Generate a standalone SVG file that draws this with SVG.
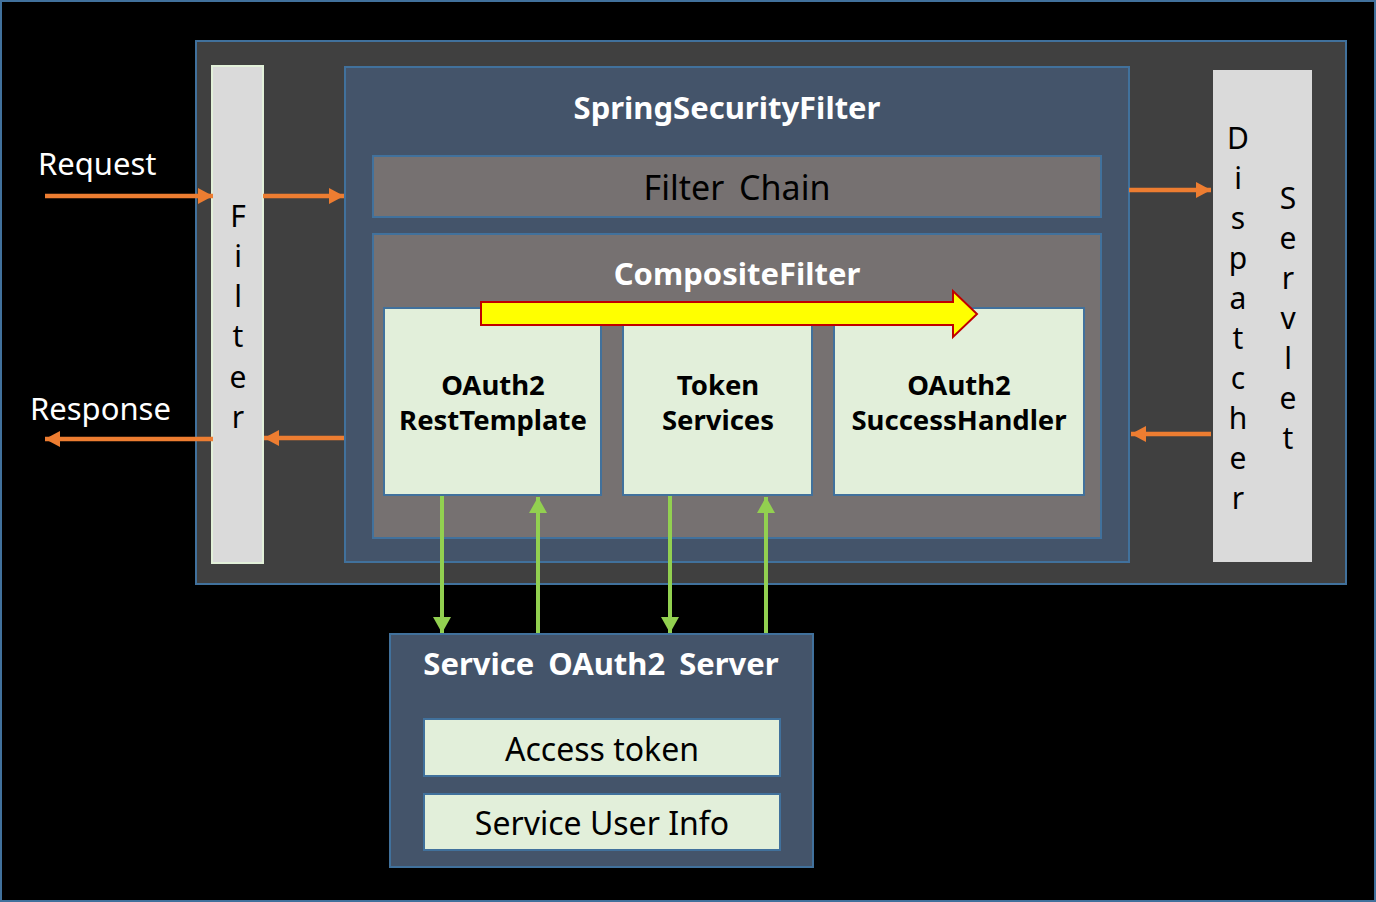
<svg xmlns="http://www.w3.org/2000/svg" width="1376" height="902" viewBox="0 0 1376 902">
<style>
text{font-family:"Noto Sans","Open Sans","Liberation Sans",sans-serif}
.w{fill:#fff;font-weight:bold;font-size:31px;text-anchor:middle}
.b{fill:#000;font-weight:bold;font-size:27.5px;text-anchor:middle}
.n{fill:#000;font-size:32px;text-anchor:middle}
.lbl{fill:#fff;font-size:31px}
.v{fill:#000;font-size:30px;text-anchor:middle}
.box{fill:#E2EFDA;stroke:#41719C;stroke-width:2}
.nav{fill:#44546A;stroke:#41719C;stroke-width:2}
.gray{fill:#767171;stroke:#41719C;stroke-width:2}
.o{stroke:#ED7D31;stroke-width:4.5;fill:none}
.g{stroke:#92D050;stroke-width:4;fill:none}
</style>
<defs>
<marker id="ao" markerWidth="15" markerHeight="16" refX="15" refY="8" orient="auto" markerUnits="userSpaceOnUse"><path d="M0,0 L15,8 L0,16 Z" fill="#ED7D31"/></marker>
<marker id="ag" markerWidth="16" markerHeight="18" refX="16" refY="9" orient="auto" markerUnits="userSpaceOnUse"><path d="M0,0 L16,9 L0,18 Z" fill="#92D050"/></marker>
</defs>
<rect x="0" y="0" width="1376" height="902" fill="#000"/>
<rect x="1" y="1" width="1374" height="900" fill="none" stroke="#41719C" stroke-width="2"/>
<g id="container"><rect x="196" y="41" width="1150" height="543" fill="#404040" stroke="#41719C" stroke-width="2"/></g>
<g id="filter">
<rect x="212" y="66" width="51" height="497" fill="#DADADA" stroke="#E2F0D9" stroke-width="2"/>
<text class="v" x="238" y="227">F</text><text class="v" x="238" y="267">i</text><text class="v" x="238" y="307">l</text><text class="v" x="238" y="347">t</text><text class="v" x="238" y="388">e</text><text class="v" x="238" y="428">r</text>
</g>
<g id="springsecurityfilter">
<rect class="nav" x="345" y="67" width="784" height="495"/>
<text class="w" x="727" y="119">SpringSecurityFilter</text>
</g>
<g id="filterchain">
<rect class="gray" x="373" y="156" width="728" height="61"/>
<text class="n" x="737" y="200" style="font-size:34px;word-spacing:6px">Filter Chain</text>
</g>
<g id="compositefilter">
<rect class="gray" x="373" y="234" width="728" height="304"/>
<text class="w" x="737" y="285">CompositeFilter</text>
</g>
<g id="resttemplate">
<rect class="box" x="384" y="308" width="217" height="187"/>
<text class="b" x="493" y="395">OAuth2</text><text class="b" x="493" y="430">RestTemplate</text>
</g>
<g id="tokenservices">
<rect class="box" x="623" y="308" width="189" height="187"/>
<text class="b" x="718" y="395">Token</text><text class="b" x="718" y="430">Services</text>
</g>
<g id="successhandler">
<rect class="box" x="834" y="308" width="250" height="187"/>
<text class="b" x="959" y="395">OAuth2</text><text class="b" x="959" y="430">SuccessHandler</text>
</g>
<g id="flowarrow"><path d="M481,302 L953,302 L953,291 L977,314 L953,337 L953,325 L481,325 Z" fill="#FFFF00" stroke="#C00000" stroke-width="2"/></g>
<g id="dispatcherservlet">
<rect x="1213" y="70" width="99" height="492" fill="#DADADA"/>
<text class="v" x="1238" y="149">D</text><text class="v" x="1238" y="189">i</text><text class="v" x="1238" y="229">s</text><text class="v" x="1238" y="269">p</text><text class="v" x="1238" y="309">a</text><text class="v" x="1238" y="349">t</text><text class="v" x="1238" y="389">c</text><text class="v" x="1238" y="429">h</text><text class="v" x="1238" y="469">e</text><text class="v" x="1238" y="509">r</text>
<text class="v" x="1288" y="209">S</text><text class="v" x="1288" y="249">e</text><text class="v" x="1288" y="289">r</text><text class="v" x="1288" y="329">v</text><text class="v" x="1288" y="369">l</text><text class="v" x="1288" y="409">e</text><text class="v" x="1288" y="449">t</text>
</g>
<g id="oauthserver">
<rect class="nav" x="390" y="634" width="423" height="233"/>
<text class="w" x="601" y="675" style="word-spacing:6px">Service OAuth2 Server</text>
<rect class="box" x="424" y="719" width="356" height="57"/>
<text class="n" x="602" y="761">Access token</text>
<rect class="box" x="424" y="794" width="356" height="56"/>
<text class="n" x="602" y="835">Service User Info</text>
</g>
<g id="labels">
<text class="lbl" x="38" y="175">Request</text>
<text class="lbl" x="30" y="420">Response</text>
</g>
<g id="connectors">
<line class="o" x1="45" y1="196" x2="213" y2="196" marker-end="url(#ao)"/>
<line class="o" x1="263" y1="196" x2="344" y2="196" marker-end="url(#ao)"/>
<line class="o" x1="213" y1="439" x2="45" y2="439" marker-end="url(#ao)"/>
<line class="o" x1="344" y1="438" x2="264" y2="438" marker-end="url(#ao)"/>
<line class="o" x1="1129" y1="190" x2="1211" y2="190" marker-end="url(#ao)"/>
<line class="o" x1="1211" y1="434" x2="1131" y2="434" marker-end="url(#ao)"/>
<line class="g" x1="442" y1="496" x2="442" y2="633" marker-end="url(#ag)"/>
<line class="g" x1="538" y1="633" x2="538" y2="497" marker-end="url(#ag)"/>
<line class="g" x1="670" y1="496" x2="670" y2="633" marker-end="url(#ag)"/>
<line class="g" x1="766" y1="633" x2="766" y2="497" marker-end="url(#ag)"/>
</g>
</svg>
